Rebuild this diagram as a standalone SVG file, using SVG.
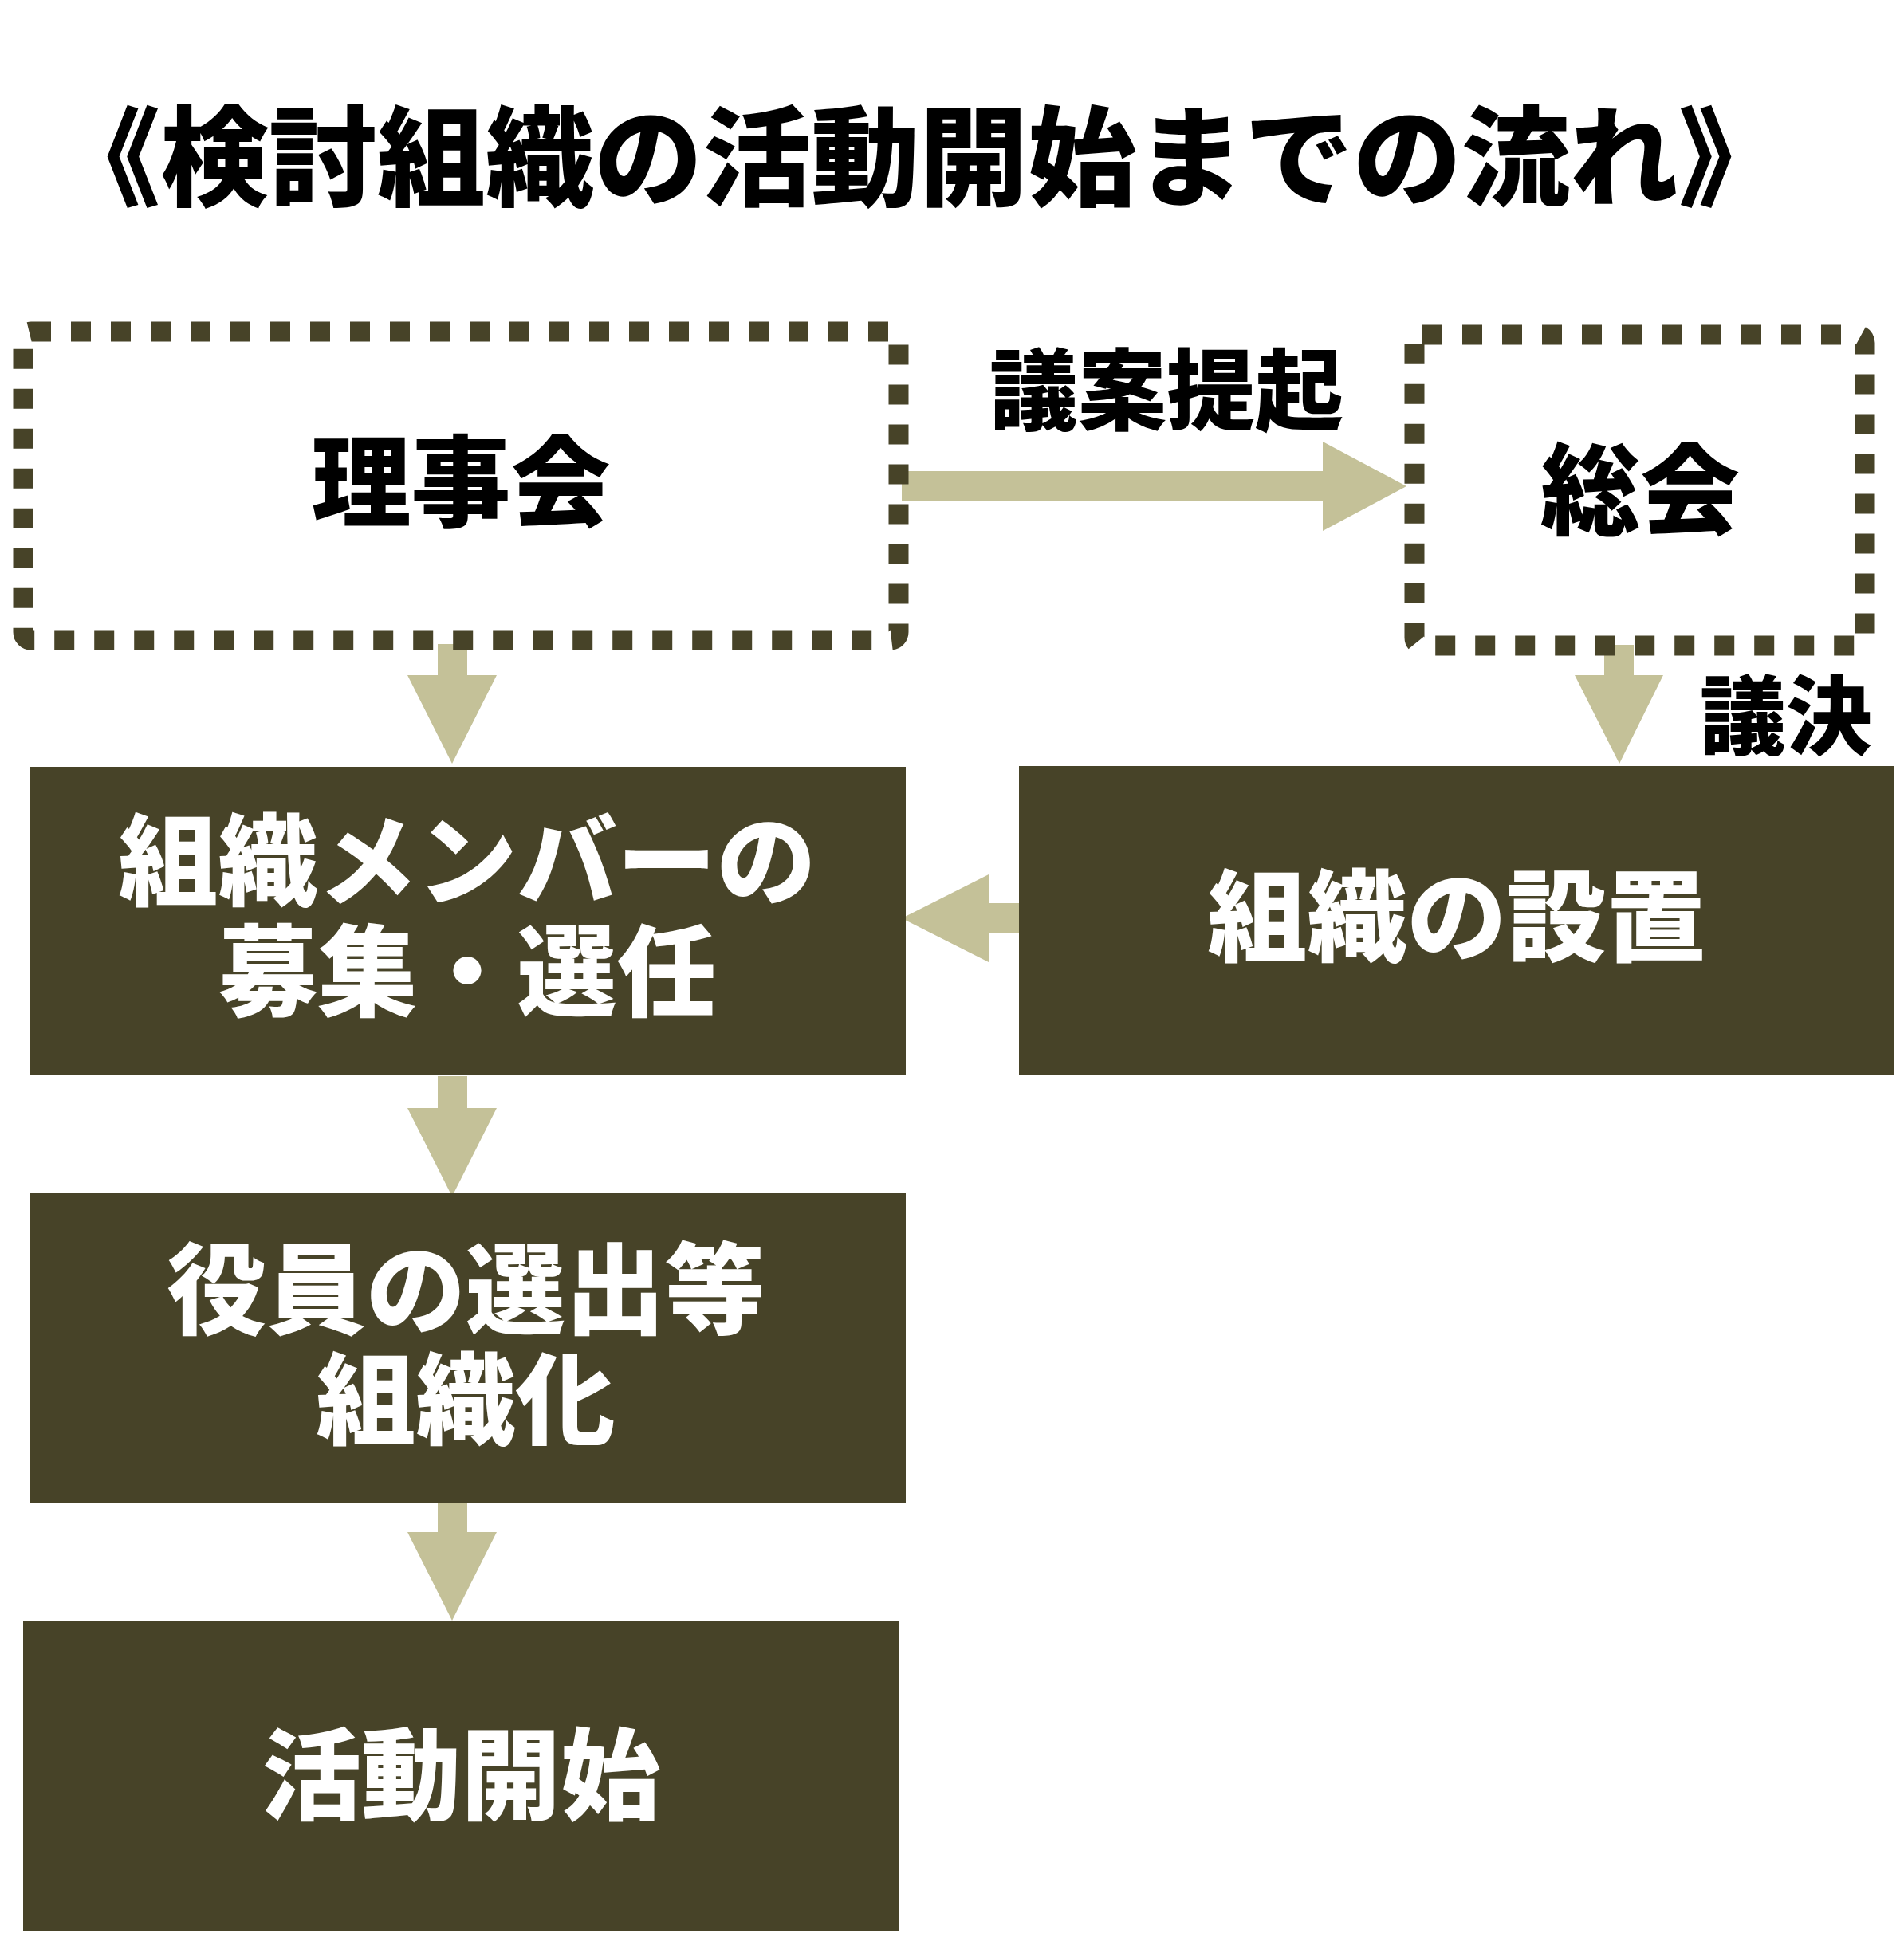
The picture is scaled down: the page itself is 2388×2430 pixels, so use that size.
<svg xmlns="http://www.w3.org/2000/svg" width="2388" height="2430" viewBox="0 0 2388 2430">
<style>
.t{font-family:"Noto Sans CJK JP","Noto Sans CJK SC",sans-serif;font-weight:900;text-anchor:middle}
.blk{fill:#000}
.wht{fill:#fff}
.dash{fill:none;stroke:#474328;stroke-width:25;stroke-dasharray:25 25}
.box{fill:#474328}
.arr{fill:#c4c198}
</style>
<rect width="2388" height="2430" fill="#fff"/>
<text id="title" class="t blk" x="1153" y="248" font-size="136">《検討組織の活動開始までの流れ》</text>
<g id="connectors">
<path class="arr" d="M1131,591 H1659 V554 L1764,610 L1659,666 V629 H1131 Z"/>
<path class="arr" d="M549,808 H586 V847 H623 L567,958 L511,847 H549 Z"/>
<path class="arr" d="M2012,809 H2049 V847 H2086 L2031,958 L1975,847 H2012 Z"/>
<path class="arr" d="M1278,1133 V1171 H1240 V1207 L1131,1152 L1240,1097 V1133 Z"/>
<path class="arr" d="M549,1350 H586 V1390 H623 L567,1501 L511,1390 H549 Z"/>
<path class="arr" d="M549,1883 H586 V1922 H623 L567,2033 L511,1922 H549 Z"/>
<text class="t blk" x="1463" y="531" font-size="111">議案提起</text>
<text class="t blk" x="2240" y="938" font-size="108">議決</text>
</g>
<g id="rijikai">
<rect class="dash" x="29" y="416" width="1098" height="387" rx="10"/>
<text class="t blk" x="578" y="651" font-size="125">理事会</text>
</g>
<g id="soukai">
<rect class="dash" x="1774" y="420" width="565" height="390" rx="10"/>
<text class="t blk" x="2057" y="661" font-size="125">総会</text>
</g>
<g id="setchi">
<rect class="box" x="1278" y="961" width="1098" height="388"/>
<text class="t wht" x="1827" y="1196" font-size="125">組織の設置</text>
</g>
<g id="boshu">
<rect class="box" x="38" y="962" width="1098" height="386"/>
<text class="t wht" font-size="125"><tspan x="586" y="1126">組織メンバーの</tspan><tspan x="586" y="1265">募集・選任</tspan></text>
</g>
<g id="yakuin">
<rect class="box" x="38" y="1497" width="1098" height="388"/>
<text class="t wht" font-size="125"><tspan x="584" y="1664">役員の選出等</tspan><tspan x="584" y="1802">組織化</tspan></text>
</g>
<g id="katsudo">
<rect class="box" x="29" y="2034" width="1098" height="389"/>
<text class="t wht" x="578" y="2273" font-size="125">活動開始</text>
</g>
</svg>
